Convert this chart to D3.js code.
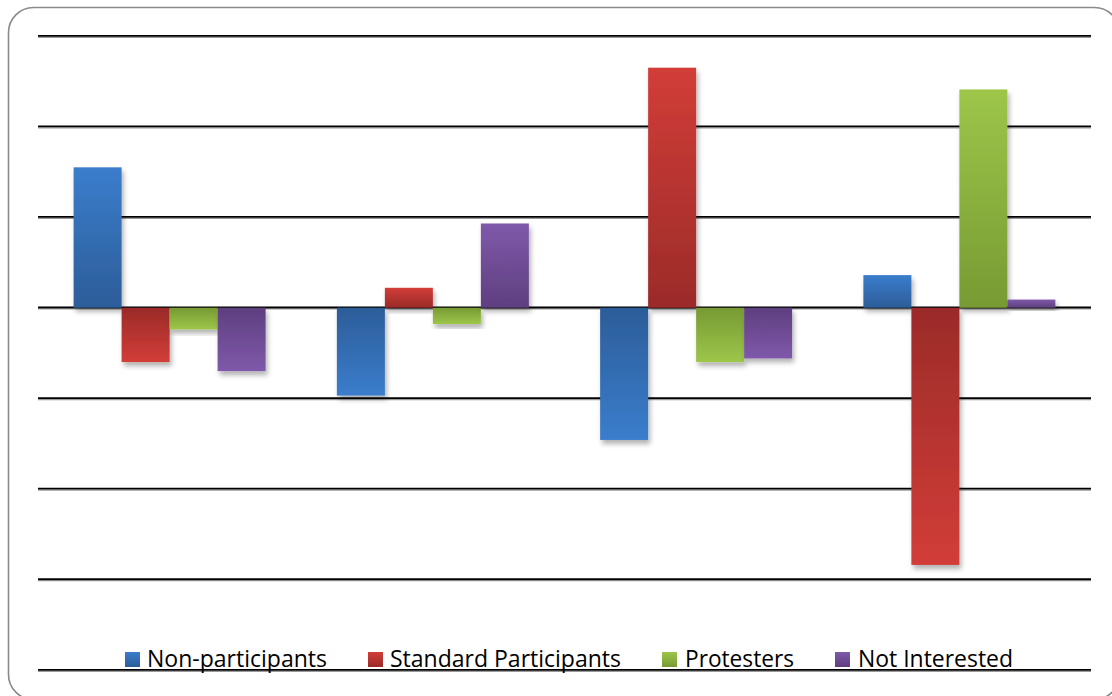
<!DOCTYPE html>
<html>
<head>
<meta charset="utf-8">
<script src="https://cdn.jsdelivr.net/npm/d3@7"></script>
<style>
  html, body { margin: 0; padding: 0; background: #fff; }
  svg { display: block; }
</style>
</head>
<body>
<svg id="chart" width="1112" height="696"></svg>
<script>
// ---- data ----
const categories = ["Group 1", "Group 2", "Group 3", "Group 4"];
const seriesNames = ["Non-participants", "Standard Participants", "Protesters", "Not Interested"];
const nonParticipants = [1.55, -0.97, -1.46, 0.36];
const standardParticipants = [-0.60, 0.22, 2.65, -2.84];
const protesters = [-0.24, -0.18, -0.60, 2.41];
const notInterested = [-0.70, 0.93, -0.56, 0.09];
const yTicks = [-4, -3, -2, -1, 0, 1, 2, 3];

const seriesValues = [nonParticipants, standardParticipants, protesters, notInterested];
const colors = [
  { light: "#3B7DCC", dark: "#2C5D99" },
  { light: "#D23D38", dark: "#9B2B29" },
  { light: "#9DC64A", dark: "#779A33" },
  { light: "#7F59AA", dark: "#5E3F7F" }
];

const svg = d3.select("#chart");
const defs = svg.append("defs");

// drop shadow filter
const f = defs.append("filter").attr("id", "shadow")
  .attr("x", "-20%").attr("y", "-20%").attr("width", "150%").attr("height", "150%");
f.append("feDropShadow").attr("dx", 2).attr("dy", 4).attr("stdDeviation", 2.5)
  .attr("flood-color", "#000").attr("flood-opacity", 0.3);

colors.forEach((c, i) => {
  const gp = defs.append("linearGradient").attr("id", "pos" + i)
    .attr("x1", 0).attr("y1", 0).attr("x2", 0).attr("y2", 1);
  gp.append("stop").attr("offset", "0%").attr("stop-color", c.light);
  gp.append("stop").attr("offset", "100%").attr("stop-color", c.dark);
  const gn = defs.append("linearGradient").attr("id", "neg" + i)
    .attr("x1", 0).attr("y1", 0).attr("x2", 0).attr("y2", 1);
  gn.append("stop").attr("offset", "0%").attr("stop-color", c.dark);
  gn.append("stop").attr("offset", "100%").attr("stop-color", c.light);
});

// frame
svg.append("rect")
  .attr("x", 8.5).attr("y", 7.5).attr("width", 1111).attr("height", 692)
  .attr("rx", 25).attr("ry", 25)
  .attr("fill", "#fff").attr("stroke", "#8a8a8a").attr("stroke-width", 1.6);

// scales
const x0 = d3.scaleBand().domain(categories).range([38, 1091])
  .paddingInner(0.2707).paddingOuter(0.1353);
const x1 = d3.scaleBand().domain(seriesNames).range([0, x0.bandwidth()]);
const y = d3.scaleLinear().domain([-4, 3]).range([670, 36]);

// gridlines
const grid = svg.append("g");
grid.selectAll("line.shade").data(yTicks).join("line")
  .attr("class", "shade")
  .attr("x1", 38).attr("x2", 1091)
  .attr("y1", d => y(d) + 1.3).attr("y2", d => y(d) + 1.3)
  .attr("stroke", "#9a9a9a").attr("stroke-width", 1.2);
grid.selectAll("line.main").data(yTicks).join("line")
  .attr("class", "main")
  .attr("x1", 38).attr("x2", 1091)
  .attr("y1", d => y(d) - 0.2).attr("y2", d => y(d) - 0.2)
  .attr("stroke", "#000").attr("stroke-width", 1.8);

// bars
const bars = svg.append("g");
seriesValues.forEach((vals, si) => {
  bars.selectAll("rect.s" + si)
    .data(vals.map((v, ci) => ({ v, cat: categories[ci] })))
    .join("rect")
    .attr("class", "s" + si)
    .attr("x", d => x0(d.cat) + x1(seriesNames[si]))
    .attr("width", x1.bandwidth())
    .attr("y", d => Math.min(y(d.v), y(0)))
    .attr("height", d => Math.abs(y(d.v) - y(0)))
    .attr("fill", d => d.v >= 0 ? `url(#pos${si})` : `url(#neg${si})`)
    .attr("filter", "url(#shadow)");
});

// legend
const legendItems = [
  { sq: 125, tx: 147, len: 180 },
  { sq: 368, tx: 390, len: 231 },
  { sq: 662, tx: 685, len: 109 },
  { sq: 835, tx: 858, len: 155 }
];
const leg = svg.append("g");
seriesNames.forEach((name, i) => {
  const it = legendItems[i];
  const lg = defs.append("linearGradient").attr("id", "leg" + i)
    .attr("x1", 0).attr("y1", 0).attr("x2", 0).attr("y2", 1);
  lg.append("stop").attr("offset", "0%").attr("stop-color", colors[i].light);
  lg.append("stop").attr("offset", "100%").attr("stop-color", colors[i].dark);
  leg.append("rect").attr("x", it.sq).attr("y", 652).attr("width", 15).attr("height", 15)
    .attr("fill", `url(#leg${i})`);
  leg.append("text").attr("x", it.tx).attr("y", 667)
    .attr("font-family", "'Open Sans', 'Liberation Sans', Arial, sans-serif")
    .attr("font-size", 23)
    .attr("fill", "#000")
    .attr("textLength", it.len)
    .attr("lengthAdjust", "spacingAndGlyphs")
    .text(name);
});
</script>
</body>
</html>
